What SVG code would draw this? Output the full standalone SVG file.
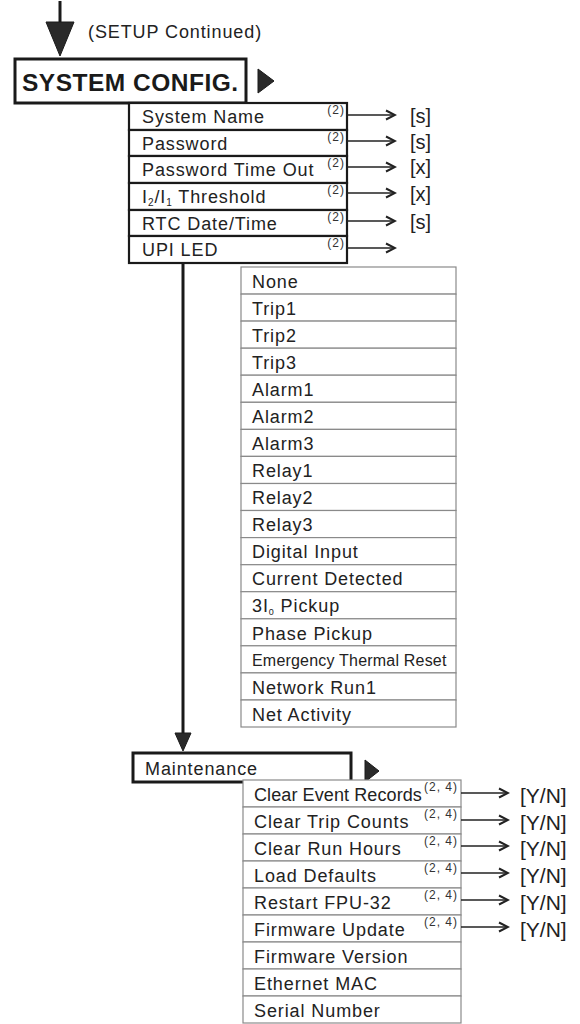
<svg xmlns="http://www.w3.org/2000/svg" width="580" height="1024" viewBox="0 0 580 1024">
<defs>
<style>
.t{font-family:"Liberation Sans",Arial,sans-serif;font-size:18px;letter-spacing:0.9px;fill:#222}
.sup{font-family:"Liberation Sans",Arial,sans-serif;font-size:12px;letter-spacing:1px;fill:#333}
.val{font-family:"Liberation Sans",Arial,sans-serif;font-size:20px;fill:#222}
.yn{font-family:"Liberation Sans",Arial,sans-serif;font-size:21px;fill:#222}
.thick{fill:#fff;stroke:#1a1a1a;stroke-width:3}
.sub{fill:#fff;stroke:#1a1a1a;stroke-width:2.2}
.thin{fill:#fff;stroke:#8a8a8a;stroke-width:1.2}
.conn{stroke:#222;stroke-width:1.6;fill:none;marker-end:url(#open)}
.bar{stroke:#1a1a1a;stroke-width:3;fill:none}
.head{fill:#2a2a2a;stroke:#1a1a1a;stroke-width:1}
</style>
<marker id="open" markerWidth="12" markerHeight="12" refX="10" refY="6" orient="auto" markerUnits="userSpaceOnUse">
<path d="M1,1.5 L10,6 L1,10.5" fill="none" stroke="#222" stroke-width="2"/>
</marker>
</defs>
<rect width="580" height="1024" fill="#fff"/>

<g id="setup-label">
<text x="88" y="38" style="font-family:'Liberation Sans',Arial,sans-serif;font-size:18px;letter-spacing:0.9px;fill:#222">(SETUP Continued)</text>
</g>

<g id="system-config">
<rect class="thick" x="15" y="59" width="231" height="44"/>
<text x="22" y="91" style="font-family:'Liberation Sans',Arial,sans-serif;font-size:24.5px;font-weight:bold;letter-spacing:0.5px;fill:#1a1a1a">SYSTEM CONFIG.</text>
<polygon class="head" points="258,69 258,93 274,81"/>
</g>

<g id="system-name"><rect class="sub" x="129" y="103" width="218" height="27"/><text class="t" x="142" y="123">System Name</text><text class="sup" x="345" y="114" text-anchor="end">(2)</text></g>
<g id="password"><rect class="sub" x="129" y="130" width="218" height="26"/><text class="t" x="142" y="150">Password</text><text class="sup" x="345" y="141" text-anchor="end">(2)</text></g>
<g id="password-timeout"><rect class="sub" x="129" y="156" width="218" height="27"/><text class="t" x="142" y="176">Password Time Out</text><text class="sup" x="345" y="167" text-anchor="end">(2)</text></g>
<g id="threshold"><rect class="sub" x="129" y="183" width="218" height="27"/><text class="t" x="142" y="203">I<tspan font-size="10" dy="3">2</tspan><tspan dy="-3">/I</tspan><tspan font-size="10" dy="3">1</tspan><tspan dy="-3"> Threshold</tspan></text><text class="sup" x="345" y="194" text-anchor="end">(2)</text></g>
<g id="rtc"><rect class="sub" x="129" y="210" width="218" height="26"/><text class="t" x="142" y="230">RTC Date/Time</text><text class="sup" x="345" y="221" text-anchor="end">(2)</text></g>
<g id="upi-led"><rect class="sub" x="129" y="236" width="218" height="27"/><text class="t" x="142" y="256">UPI LED</text><text class="sup" x="345" y="247" text-anchor="end">(2)</text></g>

<g id="values1">
<text class="val" x="410" y="123">[s]</text>
<text class="val" x="410" y="149">[s]</text>
<text class="val" x="410" y="174">[x]</text>
<text class="val" x="410" y="201">[x]</text>
<text class="val" x="410" y="229">[s]</text>
</g>

<g id="led-options">
<g id="opt-none"><rect class="thin" x="241" y="267" width="215" height="27.1"/><text class="t" x="252" y="288">None</text></g>
<g id="opt-trip1"><rect class="thin" x="241" y="294.1" width="215" height="27"/><text class="t" x="252" y="315">Trip1</text></g>
<g id="opt-trip2"><rect class="thin" x="241" y="321.1" width="215" height="27.1"/><text class="t" x="252" y="342">Trip2</text></g>
<g id="opt-trip3"><rect class="thin" x="241" y="348.2" width="215" height="27"/><text class="t" x="252" y="369">Trip3</text></g>
<g id="opt-alarm1"><rect class="thin" x="241" y="375.2" width="215" height="27.1"/><text class="t" x="252" y="396">Alarm1</text></g>
<g id="opt-alarm2"><rect class="thin" x="241" y="402.3" width="215" height="27.1"/><text class="t" x="252" y="423">Alarm2</text></g>
<g id="opt-alarm3"><rect class="thin" x="241" y="429.4" width="215" height="27"/><text class="t" x="252" y="450">Alarm3</text></g>
<g id="opt-relay1"><rect class="thin" x="241" y="456.4" width="215" height="27.1"/><text class="t" x="252" y="477">Relay1</text></g>
<g id="opt-relay2"><rect class="thin" x="241" y="483.5" width="215" height="27"/><text class="t" x="252" y="504">Relay2</text></g>
<g id="opt-relay3"><rect class="thin" x="241" y="510.5" width="215" height="27.1"/><text class="t" x="252" y="531">Relay3</text></g>
<g id="opt-digital"><rect class="thin" x="241" y="537.6" width="215" height="27.1"/><text class="t" x="252" y="558">Digital Input</text></g>
<g id="opt-current"><rect class="thin" x="241" y="564.7" width="215" height="27"/><text class="t" x="252" y="585">Current Detected</text></g>
<g id="opt-3i0"><rect class="thin" x="241" y="591.7" width="215" height="27.1"/><text class="t" x="252" y="612">3I<tspan font-size="9" dy="3">0</tspan><tspan dy="-3"> Pickup</tspan></text></g>
<g id="opt-phase"><rect class="thin" x="241" y="618.8" width="215" height="27"/><text class="t" x="252" y="640">Phase Pickup</text></g>
<g id="opt-emergency"><rect class="thin" x="241" y="645.8" width="215" height="27.1"/><text class="t" x="252" y="666" style="font-size:16px;letter-spacing:0.2px">Emergency Thermal Reset</text></g>
<g id="opt-network"><rect class="thin" x="241" y="672.9" width="215" height="27.1"/><text class="t" x="252" y="694">Network Run1</text></g>
<g id="opt-netact"><rect class="thin" x="241" y="700" width="215" height="27"/><text class="t" x="252" y="721">Net Activity</text></g>
</g>

<g id="maintenance">
<rect class="thick" x="133" y="753" width="218" height="29"/>
<text class="t" x="145" y="775">Maintenance</text>
<polygon class="head" points="365,760 365,782 379,771"/>
</g>

<g id="maint-items">
<g id="clear-events"><rect class="thin" x="243" y="780" width="218" height="27"/><text class="t" x="254" y="801" style="letter-spacing:0.1px">Clear Event Records</text><text class="sup" x="458" y="791" text-anchor="end">(2, 4)</text></g>
<g id="clear-trips"><rect class="thin" x="243" y="807" width="218" height="27"/><text class="t" x="254" y="828">Clear Trip Counts</text><text class="sup" x="458" y="818" text-anchor="end">(2, 4)</text></g>
<g id="clear-run"><rect class="thin" x="243" y="834" width="218" height="27"/><text class="t" x="254" y="855">Clear Run Hours</text><text class="sup" x="458" y="845" text-anchor="end">(2, 4)</text></g>
<g id="load-defaults"><rect class="thin" x="243" y="861" width="218" height="27"/><text class="t" x="254" y="882">Load Defaults</text><text class="sup" x="458" y="872" text-anchor="end">(2, 4)</text></g>
<g id="restart"><rect class="thin" x="243" y="888" width="218" height="27"/><text class="t" x="254" y="909">Restart FPU-32</text><text class="sup" x="458" y="899" text-anchor="end">(2, 4)</text></g>
<g id="fw-update"><rect class="thin" x="243" y="915" width="218" height="27"/><text class="t" x="254" y="936">Firmware Update</text><text class="sup" x="458" y="926" text-anchor="end">(2, 4)</text></g>
<g id="fw-version"><rect class="thin" x="243" y="942" width="218" height="27"/><text class="t" x="254" y="963">Firmware Version</text></g>
<g id="eth-mac"><rect class="thin" x="243" y="969" width="218" height="27"/><text class="t" x="254" y="990">Ethernet MAC</text></g>
<g id="serial"><rect class="thin" x="243" y="996" width="218" height="27"/><text class="t" x="254" y="1017">Serial Number</text></g>
</g>

<g id="values2">
<text class="yn" x="520" y="803">[Y/N]</text>
<text class="yn" x="520" y="830">[Y/N]</text>
<text class="yn" x="520" y="856">[Y/N]</text>
<text class="yn" x="520" y="883">[Y/N]</text>
<text class="yn" x="520" y="910">[Y/N]</text>
<text class="yn" x="520" y="937">[Y/N]</text>
</g>

<g id="connectors">
<line class="bar" x1="60" y1="1" x2="60" y2="26"/>
<polygon class="head" points="46,22 74,22 60,56"/>
<line class="bar" x1="183" y1="263" x2="183" y2="736"/>
<polygon class="head" points="175,733 191,733 183,751"/>
<line class="conn" x1="347" y1="115" x2="395" y2="115"/>
<line class="conn" x1="347" y1="141" x2="395" y2="141"/>
<line class="conn" x1="347" y1="167" x2="395" y2="167"/>
<line class="conn" x1="347" y1="193" x2="395" y2="193"/>
<line class="conn" x1="347" y1="221" x2="395" y2="221"/>
<line class="conn" x1="347" y1="248" x2="395" y2="248"/>
<line class="conn" x1="461" y1="793" x2="508" y2="793"/>
<line class="conn" x1="461" y1="820" x2="508" y2="820"/>
<line class="conn" x1="461" y1="846" x2="508" y2="846"/>
<line class="conn" x1="461" y1="873" x2="508" y2="873"/>
<line class="conn" x1="461" y1="900" x2="508" y2="900"/>
<line class="conn" x1="461" y1="927" x2="508" y2="927"/>
</g>
</svg>
